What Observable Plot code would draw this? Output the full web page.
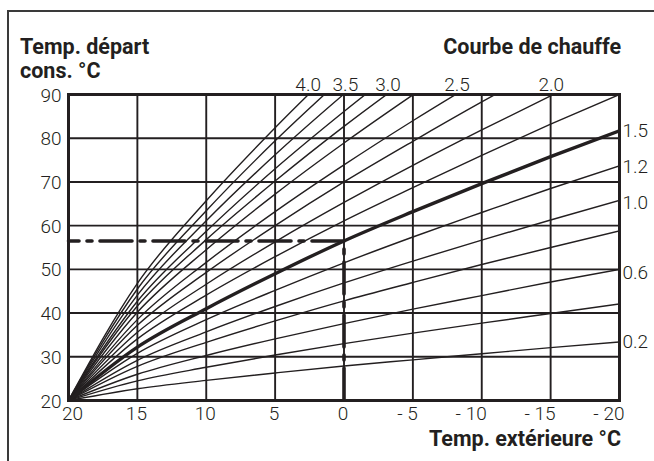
<!DOCTYPE html>
<html>
<head>
<meta charset="utf-8">
<script src="https://cdn.jsdelivr.net/npm/d3@7"></script>
<script src="https://cdn.jsdelivr.net/npm/@observablehq/plot@0.6"></script>
<style>
  html, body { margin: 0; padding: 0; background: #fff; }
  #wrap { position: relative; width: 654px; height: 461px; overflow: hidden; font-family: Roboto, "Open Sans", sans-serif; color: #231f20; }
  #outer { position: absolute; left: 7px; top: 10px; width: 700px; height: 500px; border-left: 2px solid #3a3a3a; border-top: 2px solid #3a3a3a; }
  .t { position: absolute; font-weight: 700; font-size: 21.5px; line-height: 14px; white-space: nowrap; }
  #chart { position: absolute; left: 0; top: 0; }
</style>
</head>
<body>
<div id="wrap">
  <div id="outer"></div>
  <div id="chart"></div>
  <div class="t" id="yt1" style="left:20px; top:40px;"></div>
  <div class="t" id="yt2" style="left:20px; top:64px;"></div>
  <div class="t" id="ct" style="right:33px; top:40px;"></div>
  <div class="t" id="xt" style="right:33px; top:432px;"></div>
</div>
<script>
// ---- texts ----
const yTitleLine1 = "Temp. départ";
const yTitleLine2 = "cons. °C";
const curveTitle = "Courbe de chauffe";
const xTitle = "Temp. extérieure °C";

// ---- axes ----
const outsideTemps = [20, 15, 10, 5, 0, -5, -10, -15, -20];
const xTicksPositive = [20, 15, 10, 5, 0];
const xTicksNegative = [-5, -10, -15, -20];
const yTicks = [20, 30, 40, 50, 60, 70, 80, 90];

// ---- heating curves: flow temperature (°C) at each outside temperature ----
const curve02 = [20, 22.7, 24.6, 26.3, 27.9, 29.3, 30.7, 32.1, 33.4];
const curve04 = [20, 24.5, 27.6, 30.4, 33.0, 35.4, 37.7, 39.9, 42.1];
const curve06 = [20, 26.0, 30.3, 34.1, 37.6, 40.9, 44.0, 47.1, 50.0];
const curve08 = [20, 27.8, 33.3, 38.2, 42.8, 47.0, 51.1, 55.0, 58.8];
const curve10 = [20, 29.2, 35.7, 41.5, 46.9, 51.9, 56.7, 61.3, 65.8];
const curve12 = [20, 30.8, 38.5, 45.2, 51.5, 57.4, 63.0, 68.5, 73.7];
const curve15 = [20, 32.2, 41.0, 49.0, 56.5, 63.2, 69.6, 75.8, 81.7];
const curve175 = [20, 34.1, 44.1, 52.9, 61.1, 68.7, 76.1, 83.2, 90.0];
const curve20 = [20, 35.6, 46.6, 56.3, 65.3, 73.8, 81.9, 89.7, 97.2];
const curve225 = [20, 37.2, 49.3, 60.0, 70.0, 79.3, 88.3, 96.9];
const curve25 = [20, 38.5, 51.6, 63.2, 73.9, 84.0, 93.6];
const curve275 = [20, 40.2, 54.5, 67.2, 78.9, 89.9, 100.5];
const curve30 = [20, 41.6, 56.8, 70.2, 82.7, 94.4];
const curve325 = [20, 42.7, 58.7, 73.0, 86.1, 98.5];
const curve35 = [20, 44.1, 61.1, 76.2, 90.1, 103.2];
const curve375 = [20, 45.5, 63.4, 79.4, 94.1];
const curve40 = [20, 46.8, 65.7, 82.4, 97.9];

const thinCurves = {
  "0.2": curve02, "0.4": curve04, "0.6": curve06, "0.8": curve08, "1.0": curve10,
  "1.2": curve12, "1.75": curve175, "2.0": curve20, "2.25": curve225, "2.5": curve25,
  "2.75": curve275, "3.0": curve30, "3.25": curve325, "3.5": curve35, "3.75": curve375, "4.0": curve40
};

// ---- curve labels ----
const topLabels = ["4.0", "3.5", "3.0", "2.5", "2.0"];
const topLabelOutside = [2.6, -0.1, -3.2, -8.2, -15.05];
const rightLabels = ["1.5", "1.2", "1.0", "0.6", "0.2"];
const rightLabelFlow = [81.6, 73.4, 65.2, 49.3, 33.4];

// ---- example reading (dash-dot) ----
const exampleOutside = 0;
const exampleFlow = 56.5;

// ---- build tables ----
const ink = "#231f20";
const toRows = (name, vals) => vals.map((t, i) => ({curve: name, ta: outsideTemps[i], t}));
const thinRows = Object.entries(thinCurves).flatMap(([k, v]) => toRows(k, v));
const boldRows = toRows("1.5", curve15);
const topLabelRows = topLabels.map((s, i) => ({s, ta: topLabelOutside[i], t: yTicks[yTicks.length - 1]}));
const rightLabelRows = rightLabels.map((s, i) => ({s, ta: outsideTemps[outsideTemps.length - 1], t: rightLabelFlow[i]}));
const hDash = [{ta: exampleOutside, t: exampleFlow}, {ta: outsideTemps[0], t: exampleFlow}];
const vDash = [{ta: exampleOutside, t: exampleFlow}, {ta: exampleOutside, t: yTicks[0]}];

const font = "Roboto, 'Open Sans', sans-serif";
const tickFont = 19;
const chart = Plot.plot({
  width: 654,
  height: 461,
  marginLeft: 68,
  marginRight: 35,
  marginTop: 94,
  marginBottom: 61,
  style: {fontFamily: font, fontSize: "19px", fontWeight: 300, color: ink, background: "transparent", overflow: "visible"},
  x: {domain: [20, -20]},
  y: {domain: [20, 90]},
  marks: [
    Plot.gridX(outsideTemps, {stroke: ink, strokeOpacity: 1, strokeWidth: 1.9}),
    Plot.gridY(yTicks, {stroke: ink, strokeOpacity: 1, strokeWidth: 1.9}),
    Plot.line(thinRows, {x: "ta", y: "t", z: "curve", stroke: ink, strokeWidth: 1.4, curve: "monotone-x", clip: true}),
    Plot.line(boldRows, {x: "ta", y: "t", stroke: ink, strokeWidth: 3.4, curve: "monotone-x", clip: true}),
    Plot.line(hDash, {x: "ta", y: "t", stroke: ink, strokeWidth: 3.6, strokeDasharray: "32,8,5,8"}),
    Plot.line(vDash, {x: "ta", y: "t", stroke: ink, strokeWidth: 3.6, strokeDasharray: "32,8,5,8", strokeDashoffset: 32}),
    Plot.frame({stroke: ink, strokeWidth: 3}),
    Plot.axisY({ticks: yTicks, tickSize: 0, tickPadding: 7, fontSize: tickFont, fill: ink, label: null, dy: 1}),
    Plot.axisX({ticks: xTicksPositive.slice(0, 1), tickSize: 0, tickPadding: 6, fontSize: tickFont, fill: ink, label: null, dx: 4, tickFormat: d => String(d)}),
    Plot.axisX({ticks: xTicksPositive.slice(1), tickSize: 0, tickPadding: 6, fontSize: tickFont, fill: ink, label: null, dx: -1, tickFormat: d => String(d)}),
    Plot.axisX({ticks: xTicksNegative, tickSize: 0, tickPadding: 6, fontSize: tickFont, fill: ink, label: null, textAnchor: "end", dx: 5, tickFormat: d => "- " + Math.abs(d)}),
    Plot.text(topLabelRows, {x: "ta", y: "t", text: "s", dy: -10, fontSize: tickFont, fill: ink}),
    Plot.text(rightLabelRows, {x: "ta", y: "t", text: "s", textAnchor: "start", dx: 3, fontSize: tickFont, fill: ink})
  ]
});
document.getElementById("chart").appendChild(chart);
document.getElementById("yt1").textContent = yTitleLine1;
document.getElementById("yt2").textContent = yTitleLine2;
document.getElementById("ct").textContent = curveTitle;
document.getElementById("xt").textContent = xTitle;
</script>
</body>
</html>
